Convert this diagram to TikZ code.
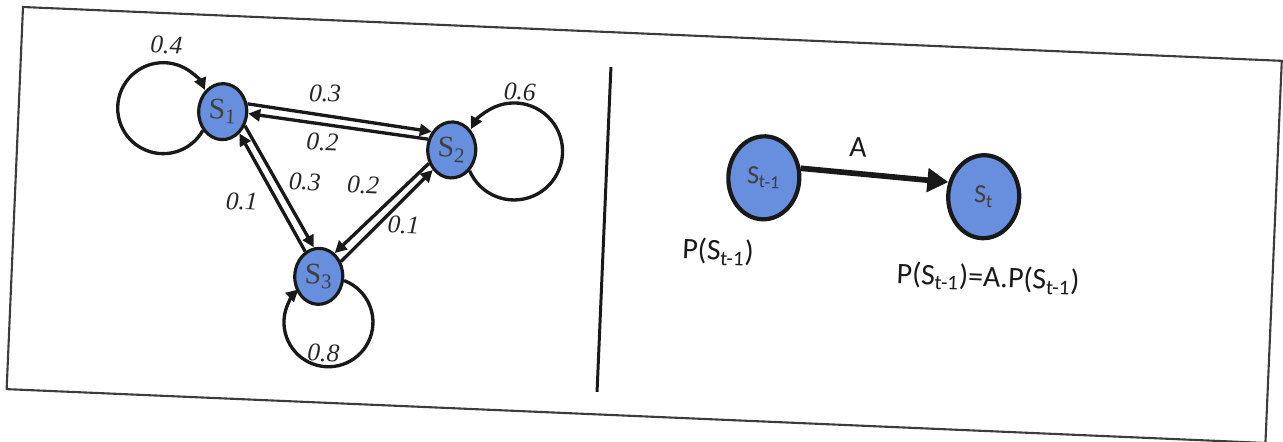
\documentclass[tikz,border=0pt]{standalone}
\usepackage{fontspec}
\setmainfont{Liberation Serif}
\newfontfamily\calibrifont{Carlito}
\usetikzlibrary{arrows.meta,shapes.geometric}
\definecolor{stateblue}{RGB}{104,142,222}
\definecolor{framegray}{RGB}{60,60,60}

\tikzset{
  state/.style={ellipse,draw=black!90,line width=1.8pt,fill=stateblue,
    minimum width=0.96cm,minimum height=1.12cm,inner sep=0pt,
    font=\fontsize{17}{17}\selectfont,text=black!75},
  bigstate/.style={state,line width=2.4pt,minimum width=1.42cm,
    minimum height=1.66cm,font=\calibrifont\fontsize{15}{15}\selectfont},
  trans/.style={line width=1.9pt,black!90,-{Triangle[length=0.24cm,width=0.24cm]}},
  prob/.style={font=\fontsize{14.5}{14.5}\selectfont\itshape,text=black!85,inner sep=1pt},
  note/.style={font=\calibrifont\fontsize{17}{17}\selectfont,text=black!90}
}

\begin{document}
\begin{tikzpicture}
  \useasboundingbox (0,0) rectangle (25.66,8.82);
  \begin{scope}[shift={(0.46,8.68)},rotate=-2.45,transform shape]
    \draw[framegray,line width=1.2pt] (0,0) rectangle (25.20,-7.65);
    \draw[black!90,line width=1.7pt] (11.80,-0.70) -- (11.80,-7.20);

    % three-state chain
    \node[state] (S1) at (4.08,-1.92) {S\textsubscript{1}};
    \node[state] (S2) at (8.69,-2.49) {S\textsubscript{2}};
    \node[state] (S3) at (6.14,-5.13) {S\textsubscript{3}};

    \draw[trans] (S1.226) arc[start angle=-27,end angle=-334,radius=0.91];
    \draw[trans] (S2.-47) arc[start angle=206,end angle=515,radius=0.97];
    \draw[trans] (S3.-7) arc[start angle=72,end angle=-225,radius=0.89];

    \draw[trans] (S1.20) -- (S2.140);
    \draw[trans] (S2.158) -- (S1.-2);
    \draw[trans] (S1.-30) -- (S3.102);
    \draw[trans] (S3.121) -- (S1.-50);
    \draw[trans] (S2.213) -- (S3.58);
    \draw[trans] (S3.36) -- (S2.229);

    \node[prob] (p11) at (2.90,-0.64) {0.4};
    \node[prob] (p22) at (10.00,-1.27) {0.6};
    \node[prob] (p33) at (6.30,-6.66) {0.8};
    \node[prob] (p12) at (6.11,-1.47) {0.3};
    \node[prob] (p21) at (6.10,-2.44) {0.2};
    \node[prob] (p13) at (5.78,-3.25) {0.3};
    \node[prob] (p23) at (6.95,-3.27) {0.2};
    \node[prob] (p31) at (4.54,-3.70) {0.1};
    \node[prob] (p32) at (7.79,-4.03) {0.1};

    % one step with the matrix A
    \node[bigstate] (Sprev) at (14.95,-2.78) {S\textsubscript{t-1}};
    \node[bigstate] (Snext) at (19.36,-2.97) {S\textsubscript{t}};
    \draw[line width=3.2pt,black!90,-{Triangle[length=0.42cm,width=0.46cm]}]
      (Sprev.17) -- (Snext.160);
    \node[note] (lblA) at (16.81,-2.08) {A};
    \node[note] (pprev) at (14.10,-4.30) {P(S\textsubscript{t-1})};
    \node[note] (pnext) at (19.52,-4.60) {P(S\textsubscript{t-1})=A.P(S\textsubscript{t-1})};
  \end{scope}
\end{tikzpicture}
\end{document}
